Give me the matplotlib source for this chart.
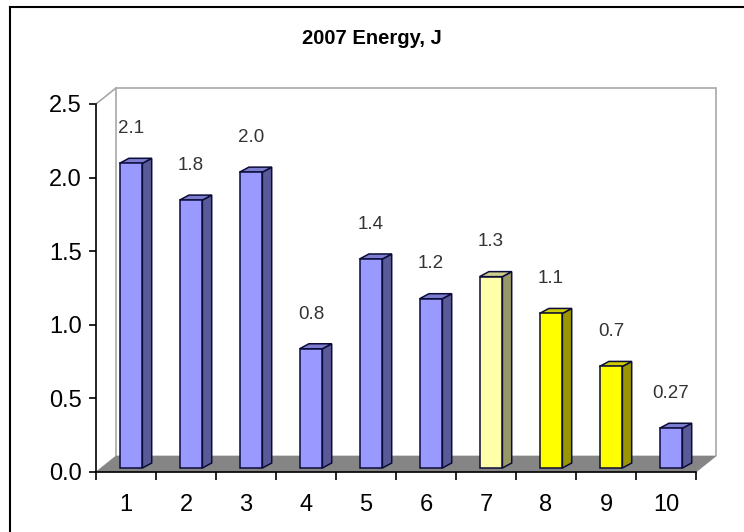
import matplotlib
matplotlib.use('Agg')
import matplotlib.pyplot as plt
from matplotlib.patches import Polygon
from matplotlib.lines import Line2D
import numpy as np

plt.rcParams['font.family'] = ['Liberation Sans', 'DejaVu Sans']

categories = ['1', '2', '3', '4', '5', '6', '7', '8', '9', '10']
values = [2.07, 1.82, 2.01, 0.81, 1.42, 1.15, 1.30, 1.05, 0.69, 0.27]
value_labels = ['2.1', '1.8', '2.0', '0.8', '1.4', '1.2', '1.3', '1.1', '0.7', '0.27']
# front / side / top colours per bar
palette = {
    'blue': ('#9999FF', '#5A5A98', '#7C7CD0'),
    'pale': ('#FFFFAA', '#979768', '#CFCF8C'),
    'yellow': ('#FFFF00', '#9A9600', '#CCCC00'),
}
bar_kind = ['blue'] * 6 + ['pale', 'yellow', 'yellow', 'blue']

W, H = 744, 532
fig = plt.figure(figsize=(W / 100, H / 100), dpi=100)
ax = fig.add_axes([96 / W, 60 / H, 600 / W, 368 / H])

x = np.arange(1, len(categories) + 1)
ax.set_xlim(0.5, len(categories) + 0.5)
ax.set_ylim(0, 2.5)

# depth of the 3D box in data units
DX, DY = 20 / 60, 16 / 147.2
shift_x, shift_y = 0.25 * DX, 0.25 * DY
side_dx, side_dy = 0.155, 0.034
width = 0.38

# back wall, left wall edge, floor
x0, x1 = 0.5, len(categories) + 0.5
wall = Polygon([(x0 + DX, DY), (x0 + DX, 2.5 + DY), (x1 + DX, 2.5 + DY), (x1 + DX, DY)],
               closed=False, fill=False, edgecolor='#A8A8A8', lw=1.2, clip_on=False, zorder=1)
ax.add_patch(wall)
ax.add_line(Line2D([x0, x0 + DX], [2.5, 2.5 + DY], color='#A8A8A8', lw=1.2, clip_on=False))
floor = Polygon([(x0, 0), (x0 + DX, DY), (x1 + DX, DY), (x1, 0)],
                closed=True, facecolor='#858585', edgecolor='#858585', lw=0.5, clip_on=False, zorder=1)
ax.add_patch(floor)

# bars: front faces via ax.bar, side and top faces as polygons
left = x + shift_x - width / 2
fronts = [palette[k][0] for k in bar_kind]
ax.bar(x + shift_x, values, width, bottom=shift_y, color=fronts,
       edgecolor='#0C0C38', linewidth=1.1, zorder=3)
for xl, v, k in zip(left, values, bar_kind):
    _, side_c, top_c = palette[k]
    xr = xl + width
    top = v + shift_y
    ax.add_patch(Polygon([(xr, shift_y), (xr + side_dx, shift_y + side_dy),
                          (xr + side_dx, top + side_dy), (xr, top)],
                         facecolor=side_c, edgecolor='#0C0C38', lw=1.1, zorder=2, clip_on=False))
    ax.add_patch(Polygon([(xl, top), (xl + side_dx, top + side_dy),
                          (xr + side_dx, top + side_dy), (xr, top)],
                         facecolor=top_c, edgecolor='#0C0C38', lw=1.1, zorder=2, clip_on=False))

for xi, v, lab in zip(x, values, value_labels):
    ax.annotate(lab, (xi + shift_x, v + shift_y), xytext=(0, 25), textcoords='offset points',
                ha='center', va='center', fontsize=13.5, color='#333333', zorder=5)

for s in ['top', 'right']:
    ax.spines[s].set_visible(False)
for s in ['left', 'bottom']:
    ax.spines[s].set_color('black')
    ax.spines[s].set_linewidth(1.2)
    ax.spines[s].set_zorder(4)

ax.set_yticks(np.arange(0, 2.51, 0.5))
ax.set_yticklabels([f'{t:.1f}' for t in np.arange(0, 2.51, 0.5)])
ax.set_xticks(x)
ax.set_xticklabels(categories)
ax.set_xticks(np.arange(0.5, len(categories) + 1, 1), minor=True)
ax.tick_params(axis='y', direction='out', length=5, width=1.2, labelsize=17, pad=5)
ax.tick_params(axis='x', which='major', length=0, labelsize=17, pad=16)
ax.tick_params(axis='x', which='minor', direction='out', length=6, width=1.2)
ax.set_facecolor('none')

fig.text(372 / W, 1 - 38 / H, '2007 Energy, J', ha='center', va='center',
         fontsize=14.5, fontweight='bold')

# outer chart frame (left and top edges)
fig.add_artist(Line2D([10 / W, 10 / W], [0, 1 - 7 / H], color='black', lw=1.5,
                      transform=fig.transFigure))
fig.add_artist(Line2D([10 / W, 1], [1 - 7 / H, 1 - 7 / H], color='black', lw=1.5,
                      transform=fig.transFigure))

fig.savefig('out.png', dpi=100)
